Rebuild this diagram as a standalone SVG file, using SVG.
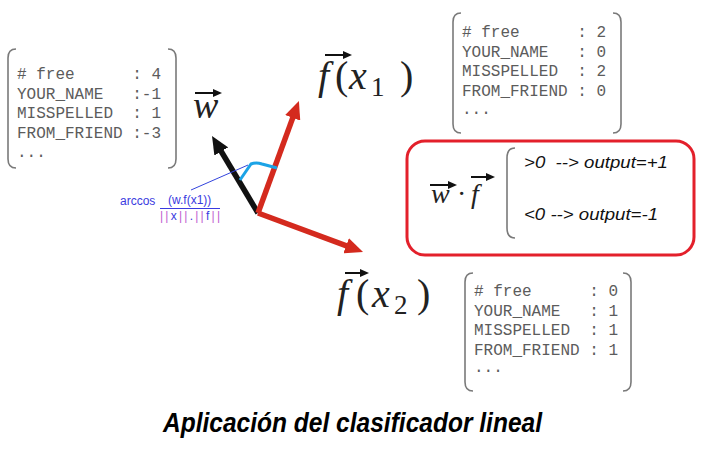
<svg xmlns="http://www.w3.org/2000/svg" width="703" height="459" viewBox="0 0 703 459">
<defs>
<style>
.mono{font-family:"Liberation Mono","Courier New",monospace;font-size:16px;fill:#5c5c5c;white-space:pre}
.br{fill:none;stroke:#7a7a7a;stroke-width:1.6}
.math{font-family:"Liberation Serif","Times New Roman",serif;fill:#222}
.it{font-style:italic}
.vec{stroke:#111;stroke-width:2}
.big{stroke-width:5.5;fill:none}
.lbl{font-family:"Liberation Sans",Arial,sans-serif;font-size:12px;fill:#3a3ae0}
.pipe{fill:#c060d0}
.cond{font-family:"Liberation Sans",Arial,sans-serif;font-style:italic;font-size:17px;fill:#111;white-space:pre}
</style>
<marker id="headK" viewBox="0 0 18 16" refX="4" refY="8" markerWidth="18" markerHeight="16" markerUnits="userSpaceOnUse" orient="auto"><path d="M0,0 L18,8 L0,16 z" fill="#111"/></marker>
<marker id="headR" viewBox="0 0 18 16" refX="4" refY="8" markerWidth="18" markerHeight="16" markerUnits="userSpaceOnUse" orient="auto"><path d="M0,0 L18,8 L0,16 z" fill="#d42a1e"/></marker>
<marker id="small" viewBox="0 0 9 8" refX="3" refY="4" markerWidth="9" markerHeight="8" markerUnits="userSpaceOnUse" orient="auto"><path d="M0,0 L9,4 L0,8 z" fill="#111"/></marker>
</defs>
<rect width="703" height="459" fill="#fff"/>

<g id="box-w">
<path class="br" d="M16,49 Q8,49 8,58 L8,159 Q8,168 16,168"/>
<path class="br" d="M168,49 Q176,49 176,58 L176,159 Q176,168 168,168"/>
<text class="mono" x="17" y="79"># free      : 4</text>
<text class="mono" x="17" y="98.5">YOUR_NAME   :-1</text>
<text class="mono" x="17" y="118">MISSPELLED  : 1</text>
<text class="mono" x="17" y="137.5">FROM_FRIEND :-3</text>
<text class="mono" x="17" y="157">...</text>
</g>

<g id="box-fx1">
<path class="br" d="M461,13 Q453,13 453,22 L453,124 Q453,133 461,133"/>
<path class="br" d="M613,13 Q621,13 621,22 L621,124 Q621,133 613,133"/>
<text class="mono" x="462" y="37"># free      : 2</text>
<text class="mono" x="462" y="56.5">YOUR_NAME   : 0</text>
<text class="mono" x="462" y="76">MISSPELLED  : 2</text>
<text class="mono" x="462" y="95.5">FROM_FRIEND : 0</text>
<text class="mono" x="462" y="114">...</text>
</g>

<g id="box-fx2">
<path class="br" d="M473,273 Q465,273 465,282 L465,382 Q465,391 473,391"/>
<path class="br" d="M623,273 Q631,273 631,282 L631,382 Q631,391 623,391"/>
<text class="mono" x="474" y="296"># free      : 0</text>
<text class="mono" x="474" y="315.5">YOUR_NAME   : 1</text>
<text class="mono" x="474" y="335">MISSPELLED  : 1</text>
<text class="mono" x="474" y="354.5">FROM_FRIEND : 1</text>
<text class="mono" x="474" y="372">...</text>
</g>

<g id="label-w">
<line class="vec" x1="195" y1="93" x2="216" y2="93" marker-end="url(#small)"/>
<text class="math it" x="193" y="118" font-size="38">w</text>
</g>

<g id="label-fx1">
<line class="vec" x1="325" y1="55" x2="346" y2="55" marker-end="url(#small)"/>
<text class="math" y="89" font-size="40"><tspan class="it" x="318">f</tspan><tspan x="335">(</tspan><tspan class="it" x="349">x</tspan><tspan x="371" y="96" font-size="27">1</tspan><tspan x="400" y="89">)</tspan></text>
</g>

<g id="label-fx2">
<line class="vec" x1="345" y1="273" x2="363" y2="273" marker-end="url(#small)"/>
<text class="math" y="307" font-size="40"><tspan class="it" x="337">f</tspan><tspan x="356">(</tspan><tspan class="it" x="372">x</tspan><tspan x="394" y="314" font-size="27">2</tspan><tspan x="417" y="307">)</tspan></text>
</g>

<g id="connectors">
<line class="big" x1="258" y1="213" x2="219.2" y2="148" stroke="#111" marker-end="url(#headK)"/>
<line class="big" x1="258" y1="213" x2="294.1" y2="114.1" stroke="#d42a1e" marker-end="url(#headR)"/>
<line class="big" x1="258" y1="213" x2="349.9" y2="247.1" stroke="#d42a1e" marker-end="url(#headR)"/>
<path d="M240,180 L251,164 Q256,162 262,164 L277,168" fill="none" stroke="#1ba3e6" stroke-width="3"/>
<line x1="191" y1="190" x2="248" y2="165" stroke="#3344dd" stroke-width="1"/>
</g>

<g id="angle-label">
<text class="lbl" x="120" y="205">arccos</text>
<text class="lbl" x="168" y="204">(w.f(x1))</text>
<line x1="160" y1="208.5" x2="220" y2="208.5" stroke="#3a3ae0" stroke-width="1"/>
<text class="lbl" x="160" y="220" textLength="60" lengthAdjust="spacing"><tspan class="pipe">||</tspan>x<tspan class="pipe">||</tspan>.<tspan class="pipe">||</tspan>f<tspan class="pipe">||</tspan></text>
</g>

<g id="decision">
<rect x="407" y="141" width="287" height="114" rx="18" fill="#fff" stroke="#e3202b" stroke-width="3"/>
<line class="vec" x1="430" y1="185" x2="451" y2="185" marker-end="url(#small)"/>
<line class="vec" x1="471" y1="177" x2="489" y2="177" marker-end="url(#small)"/>
<text class="math" y="203" font-size="28" fill="#333"><tspan class="it" x="431">w</tspan><tspan x="457">·</tspan><tspan class="it" x="471">f</tspan></text>
<path class="br" d="M515,148 Q507,148 507,158 L507,228 Q507,238 515,238" stroke="#999"/>
<text class="cond" x="524" y="168" textLength="144" lengthAdjust="spacingAndGlyphs">&gt;0  --&gt; output=+1</text>
<text class="cond" x="524" y="220" textLength="134" lengthAdjust="spacingAndGlyphs">&lt;0 --&gt; output=-1</text>
</g>

<g id="title">
<text x="163" y="432" font-family="'Liberation Sans',Arial,sans-serif" font-weight="bold" font-style="italic" font-size="27" fill="#000" textLength="379" lengthAdjust="spacingAndGlyphs">Aplicación del clasificador lineal</text>
</g>
</svg>
